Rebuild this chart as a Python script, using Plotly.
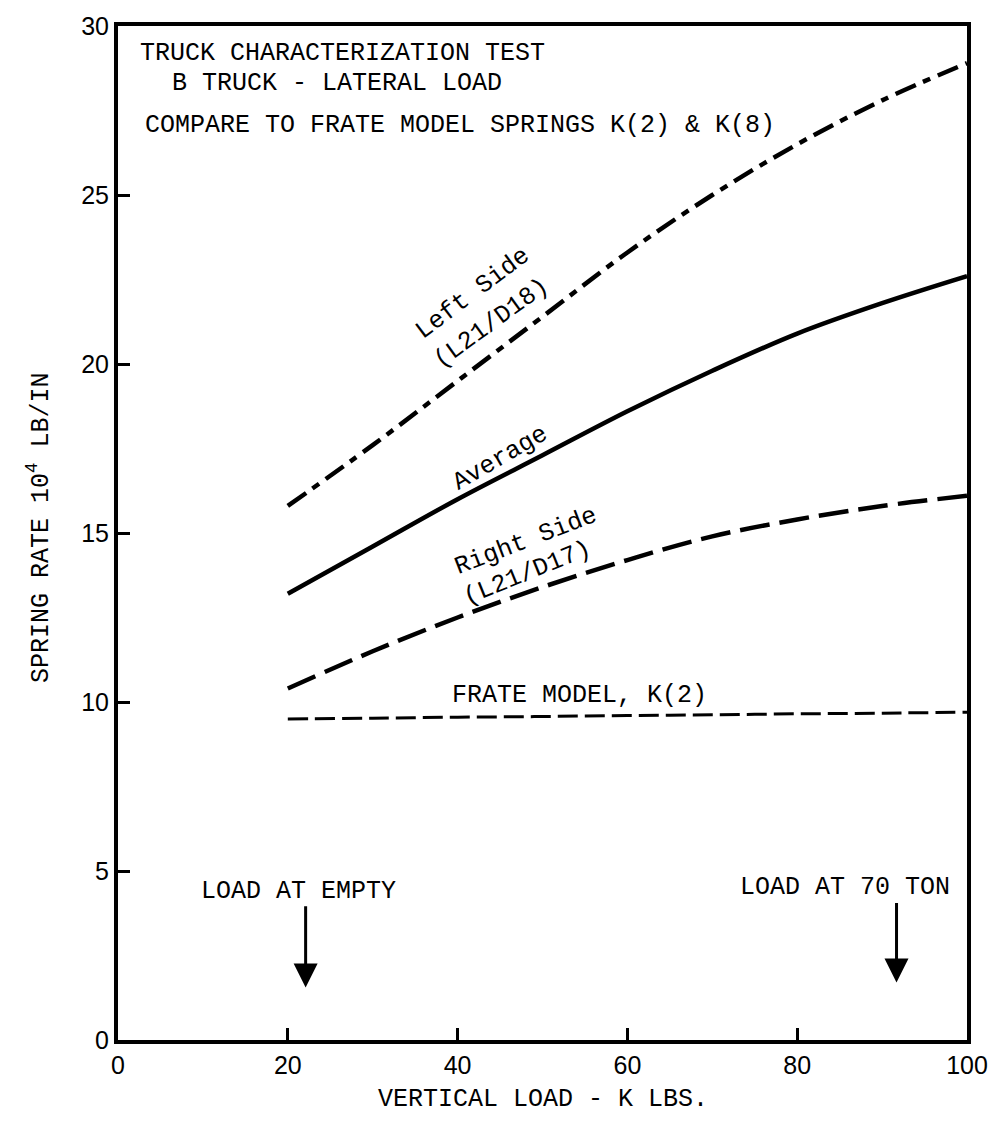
import plotly.graph_objects as go

# Data
load = [20, 30, 40, 50, 60, 70, 80, 90, 100]
left_side = [15.8, 17.6, 19.5, 21.4, 23.3, 25.0, 26.5, 27.8, 28.9]
average = [13.2, 14.6, 16.0, 17.3, 18.6, 19.8, 20.9, 21.8, 22.6]
right_side = [10.4, 11.5, 12.5, 13.4, 14.2, 14.9, 15.4, 15.8, 16.1]
frate_k2 = [9.5, 9.52, 9.55, 9.57, 9.6, 9.62, 9.65, 9.67, 9.7]

x_ticks = [0, 20, 40, 60, 80, 100]
y_ticks = [0, 5, 10, 15, 20, 25, 30]

arrow_x = [22.1, 91.7]
arrow_top = [4.0, 4.1]
arrow_tip = [1.55, 1.7]

TYPE = "Liberation Mono, Courier New, monospace"
NUM = "Liberation Sans Narrow, Liberation Sans, Arial, sans-serif"

fig = go.Figure()
fig.add_trace(go.Scatter(x=load, y=left_side, mode="lines", line_shape="spline",
                         line=dict(color="black", width=4.5, dash="22px,8px,8px,8px")))
fig.add_trace(go.Scatter(x=load, y=average, mode="lines", line_shape="spline",
                         line=dict(color="black", width=4.5)))
fig.add_trace(go.Scatter(x=load, y=right_side, mode="lines", line_shape="spline",
                         line=dict(color="black", width=4.5, dash="30px,10px")))
fig.add_trace(go.Scatter(x=load, y=frate_k2, mode="lines", line_shape="spline",
                         line=dict(color="black", width=3, dash="20px,7px")))

tf = dict(family=TYPE, size=25, color="black")
ann = []
def t(x, y, text, angle=0, xanchor="center"):
    ann.append(dict(x=x, y=y, xref="x", yref="y", text=text, showarrow=False,
                    textangle=angle, xanchor=xanchor, yanchor="middle", font=tf))

t(2.3, 29.2, "TRUCK CHARACTERIZATION TEST", xanchor="left")
t(6.1, 28.3, "B TRUCK - LATERAL LOAD", xanchor="left")
t(2.9, 27.05, "COMPARE TO FRATE MODEL SPRINGS K(2) &amp; K(8)", xanchor="left")
t(41.8, 22.1, "Left Side", -37)
t(44.0, 21.2, "(L21/D18)", -36)
t(45.0, 17.2, "Average", -30)
t(48.0, 14.75, "Right Side", -21)
t(48.2, 13.8, "(L21/D17)", -22)
t(54.4, 10.2, "FRATE MODEL, K(2)")
t(21.3, 4.4, "LOAD AT EMPTY")
t(85.6, 4.5, "LOAD AT 70 TON")

for xv, y0, y1 in zip(arrow_x, arrow_top, arrow_tip):
    ann.append(dict(x=xv, y=y1, xref="x", yref="y", ax=xv, ay=y0, axref="x", ayref="y",
                    text="", showarrow=True, arrowhead=2, arrowsize=1.6, arrowwidth=3,
                    arrowcolor="black"))

ann.append(dict(x=0.5, y=-0.059, xref="paper", yref="paper", text="VERTICAL LOAD - K LBS.",
                showarrow=False, xanchor="center", yanchor="middle", font=tf))
ann.append(dict(x=-0.093, y=0.505, xref="paper", yref="paper",
                text="SPRING RATE 10<sup>4</sup> LB/IN", textangle=-90,
                showarrow=False, xanchor="center", yanchor="middle", font=tf))

fig.update_layout(
    width=1000, height=1123,
    margin=dict(l=118, r=28, t=20, b=83),
    paper_bgcolor="white", plot_bgcolor="white",
    showlegend=False,
    annotations=ann,
)
fig.update_xaxes(range=[0, 100], tickvals=x_ticks, ticks="inside", ticklen=12, tickwidth=3,
                 tickcolor="black", showline=True, linewidth=4, linecolor="black", mirror=True,
                 showgrid=False, zeroline=False, tickfont=dict(family=NUM, size=25, color="black"))
fig.update_yaxes(range=[0, 30], tickvals=y_ticks, ticks="inside", ticklen=12, tickwidth=3,
                 tickcolor="black", showline=True, linewidth=4, linecolor="black", mirror=True,
                 showgrid=False, zeroline=False, tickfont=dict(family=NUM, size=25, color="black"))

fig.write_html("out.html")
